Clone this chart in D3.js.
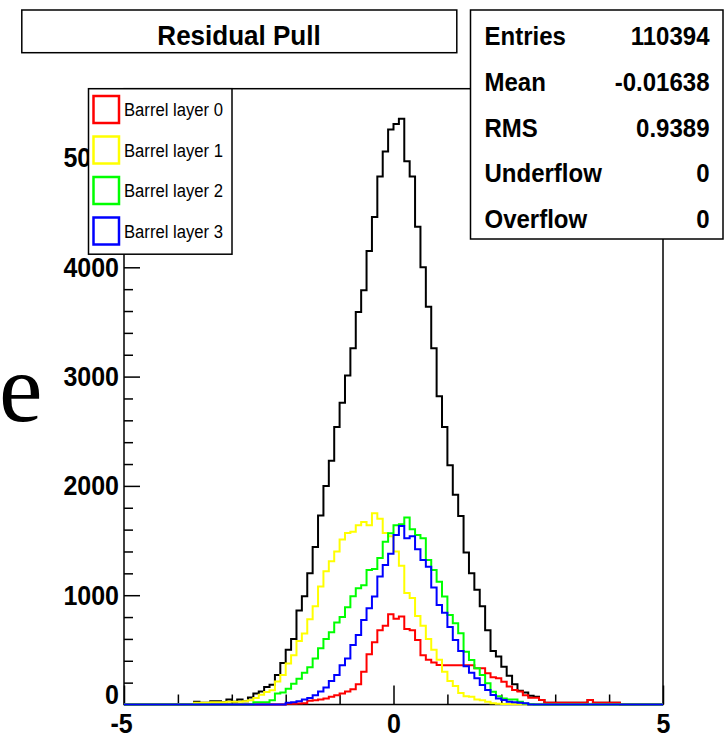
<!DOCTYPE html>
<html><head><meta charset="utf-8">
<script src="https://cdn.jsdelivr.net/npm/d3@7"></script>
<style>html,body{margin:0;padding:0;background:#fff;} svg{display:block;}</style>
</head><body>
<svg id="chart" width="725" height="738"></svg>
<script>
// ---------------- data ----------------
const xRange = [-5, 5];
const nBins = 100;
const yAxisMax = 5634;
const titleText = "Residual Pull";

const totalCounts = [
  0,0,0,0,0,0,0,0,0,0, 0,0,0,25,15,15,30,30,20,45,
  25,45,30,65,100,120,160,180,270,380, 500,600,860,990,1200,1440,1730,2000,2230,2540,
  2760,3010,3260,3590,3790,4150,4460,4830,5060,5260, 5310,5360,4970,4830,4370,4000,3640,3260,2820,2540,
  2190,1920,1725,1390,1200,1050,900,680,490,440, 346,264,185,126,110,80,70,41,17,17,
  17,17,17,17,17,17,41,17,17,17, 17,17,0,0,0,0,0,0,0,0];
const layer0 = [
  0,0,0,0,0,0,0,0,0,0, 0,0,0,0,0,0,0,0,0,0,
  0,0,0,0,0,0,0,0,0,0, 8,8,10,12,35,40,45,55,70,85,
  100,120,140,185,300,460,570,680,720,825, 785,805,690,680,590,450,410,385,362,360,
  360,360,360,360,360,331,331,285,250,240, 209,165,133,118,85,62,62,41,17,17,
  17,17,17,17,17,17,41,17,17,17, 17,17,0,0,0,0,0,0,0,0];
const layer1 = [
  0,0,0,0,0,0,0,0,0,0, 0,0,0,15,15,15,20,20,20,25,
  25,25,30,40,60,90,115,130,210,270, 375,450,580,650,780,900,1080,1220,1310,1400,
  1510,1570,1580,1640,1670,1640,1750,1700,1570,1540, 1400,1270,1020,975,810,720,600,500,410,300,
  215,170,105,75,70,45,40,25,12,8, 5,4,3,3,2,0,0,0,0,0,
  0,0,0,0,0,0,0,0,0,0, 0,0,0,0,0,0,0,0,0,0];
const layer2 = [
  0,0,0,0,0,0,0,0,0,0, 0,0,0,0,0,0,0,0,0,0,
  0,0,0,0,20,20,20,40,100,110, 145,190,235,290,340,420,515,600,660,750,
  800,890,990,1063,1090,1230,1240,1340,1490,1566, 1640,1650,1712,1603,1551,1520,1322,1231,1124,987,
  819,743,651,483,407,331,270,194,117,75, 55,45,45,25,10,3,0,0,0,0,
  0,0,0,0,0,0,0,0,0,0, 0,0,0,0,0,0,0,0,0,0];
const layer3 = [
  0,0,0,0,0,0,0,0,0,0, 0,0,0,0,0,0,0,0,0,0,
  0,0,0,0,0,0,0,0,0,0, 15,20,30,45,60,85,120,155,215,270,
  360,420,544,636,773,880,987,1170,1276,1380, 1550,1633,1520,1540,1420,1322,1261,1070,910,840,
  710,590,490,350,290,240,178,132,87,56, 41,26,20,15,12,0,0,0,0,0,
  0,0,0,0,0,0,0,0,0,0, 0,0,0,0,0,0,0,0,0,0];

const seriesNames = ["Barrel layer 0", "Barrel layer 1", "Barrel layer 2", "Barrel layer 3"];
const seriesColors = ["#ff0000", "#ffff00", "#00ff00", "#0000ff"];

const yMajorTicks = [0, 1000, 2000, 3000, 4000, 5000];
const yTickLabels = ["0", "1000", "2000", "3000", "4000", "5000"];
const yMinorTicks = [200,400,600,800,1200,1400,1600,1800,2200,2400,2600,2800,3200,3400,3600,3800,4200,4400,4600,4800,5200,5400,5600];
const xMajorTicks = [-5, 0, 5];
const xTickLabels = ["-5", "0", "5"];
const xMinorTicks = [-4, -3, -2, -1, 1, 2, 3, 4];

const statLabels = ["Entries", "Mean", "RMS", "Underflow", "Overflow"];
const statValues = ["110394", "-0.01638", "0.9389", "0", "0"];

// ---------------- drawing ----------------
const svg = d3.select("#chart");
const frame = {left: 124, right: 663, top: 88.7, bottom: 704.5};
const SANS = "'Liberation Sans', Arial, Helvetica, sans-serif";

// make text taller but keep the width it would have at widthSize (condensed look)
function condense(sel, widthSize, drawSize) {
  sel.each(function() {
    const t = d3.select(this);
    t.attr("font-size", widthSize);
    const w = this.getComputedTextLength();
    t.attr("font-size", drawSize);
    if (w > 0) t.attr("textLength", w).attr("lengthAdjust", "spacingAndGlyphs");
  });
}

const x = d3.scaleLinear().domain(xRange).range([frame.left, frame.right]);
const y = d3.scaleLinear().domain([0, yAxisMax]).range([frame.bottom, frame.top]);

// stray slide text at left
svg.append("text").attr("x", -1).attr("y", 421)
  .attr("font-family", "'Liberation Serif', 'Times New Roman', serif")
  .attr("font-size", 98).attr("fill", "#000").text("e");

// frame
svg.append("rect").attr("x", frame.left).attr("y", frame.top)
  .attr("width", frame.right - frame.left).attr("height", frame.bottom - frame.top)
  .attr("fill", "none").attr("stroke", "#000").attr("stroke-width", 1.5);

// y axis (ticks inside)
const yMinorAxis = d3.axisLeft(y).tickValues(yMinorTicks).tickSizeInner(-9).tickSizeOuter(0).tickFormat("");
const yAxis = d3.axisLeft(y).tickValues(yMajorTicks).tickSizeInner(-16).tickSizeOuter(0).tickPadding(5)
  .tickFormat((d, i) => yTickLabels[i]);
const gyMinor = svg.append("g").attr("transform", `translate(${frame.left},0)`).call(yMinorAxis);
const gy = svg.append("g").attr("transform", `translate(${frame.left},0)`).call(yAxis);
[gyMinor, gy].forEach(g => { g.select(".domain").remove(); g.selectAll("line").attr("stroke", "#000").attr("stroke-width", 1.5); });
gy.selectAll("text").attr("font-family", SANS).attr("font-weight", "bold").attr("fill", "#000");
condense(gy.selectAll("text"), 25, 28);
gy.selectAll(".tick").filter(d => d === 0).select("text").attr("dy", "-0.02em");

// x axis (ticks inside)
const xMinorAxis = d3.axisBottom(x).tickValues(xMinorTicks).tickSizeInner(-10).tickSizeOuter(0).tickFormat("");
const xAxis = d3.axisBottom(x).tickValues(xMajorTicks).tickSizeInner(-19).tickSizeOuter(0).tickPadding(9)
  .tickFormat((d, i) => xTickLabels[i]);
const gxMinor = svg.append("g").attr("transform", `translate(0,${frame.bottom})`).call(xMinorAxis);
const gx = svg.append("g").attr("transform", `translate(0,${frame.bottom})`).call(xAxis);
[gxMinor, gx].forEach(g => { g.select(".domain").remove(); g.selectAll("line").attr("stroke", "#000").attr("stroke-width", 1.5); });
gx.selectAll("text").attr("font-family", SANS).attr("font-weight", "bold").attr("fill", "#000");
condense(gx.selectAll("text"), 25, 28);
gx.selectAll(".tick").filter(d => d === -5).select("text").attr("dx", "-3");

// histograms
const edges = d3.range(nBins + 1).map(i => xRange[0] + i * (xRange[1] - xRange[0]) / nBins);
const stepLine = d3.line().x(d => x(d[0])).y(d => y(d[1])).curve(d3.curveStepAfter);
function histPoints(vals) {
  const pts = vals.map((v, i) => [edges[i], v]);
  pts.push([edges[nBins], vals[nBins - 1]]);
  return pts;
}
const allSeries = [
  {vals: totalCounts, color: "#000000"},
  {vals: layer0, color: seriesColors[0]},
  {vals: layer1, color: seriesColors[1]},
  {vals: layer2, color: seriesColors[2]},
  {vals: layer3, color: seriesColors[3]}
];
svg.append("g").selectAll("path").data(allSeries).join("path")
  .attr("d", s => stepLine(histPoints(s.vals)))
  .attr("fill", "none").attr("stroke", s => s.color).attr("stroke-width", 2)
  .attr("stroke-linejoin", "miter");

// title box
svg.append("rect").attr("x", 21.8).attr("y", 10).attr("width", 435).attr("height", 42.7)
  .attr("fill", "#fff").attr("stroke", "#000").attr("stroke-width", 1.5);
const title = svg.append("text").attr("x", 239).attr("y", 45).attr("text-anchor", "middle")
  .attr("font-family", SANS).attr("font-weight", "bold").text(titleText);
condense(title, 26, 28);

// stats box
svg.append("rect").attr("x", 470.5).attr("y", 10).attr("width", 252.5).attr("height", 229)
  .attr("fill", "#fff").attr("stroke", "#000").attr("stroke-width", 1.5);
const stats = svg.append("g").attr("font-family", SANS).attr("font-weight", "bold");
statLabels.forEach((lab, i) => {
  const by = 45 + i * 45.8;
  stats.append("text").attr("x", 484.5).attr("y", by).text(lab);
  stats.append("text").attr("x", 709.5).attr("y", by).attr("text-anchor", "end").text(statValues[i]);
});
condense(stats.selectAll("text"), 24, 26);

// legend
svg.append("rect").attr("x", 88.5).attr("y", 88.7).attr("width", 143.5).attr("height", 165.5)
  .attr("fill", "#fff").attr("stroke", "#000").attr("stroke-width", 1.5);
const leg = svg.append("g").attr("font-family", SANS);
seriesNames.forEach((name, i) => {
  const top = 96 + i * 40.5;
  leg.append("rect").attr("x", 93.5).attr("y", top).attr("width", 25.5).attr("height", 27)
    .attr("fill", "none").attr("stroke", seriesColors[i]).attr("stroke-width", 2.5);
  leg.append("text").attr("x", 124).attr("y", top + 20).attr("fill", "#000")
    .attr("font-size", 18).attr("textLength", 99).attr("lengthAdjust", "spacingAndGlyphs").text(name);
});
</script>
</body></html>
